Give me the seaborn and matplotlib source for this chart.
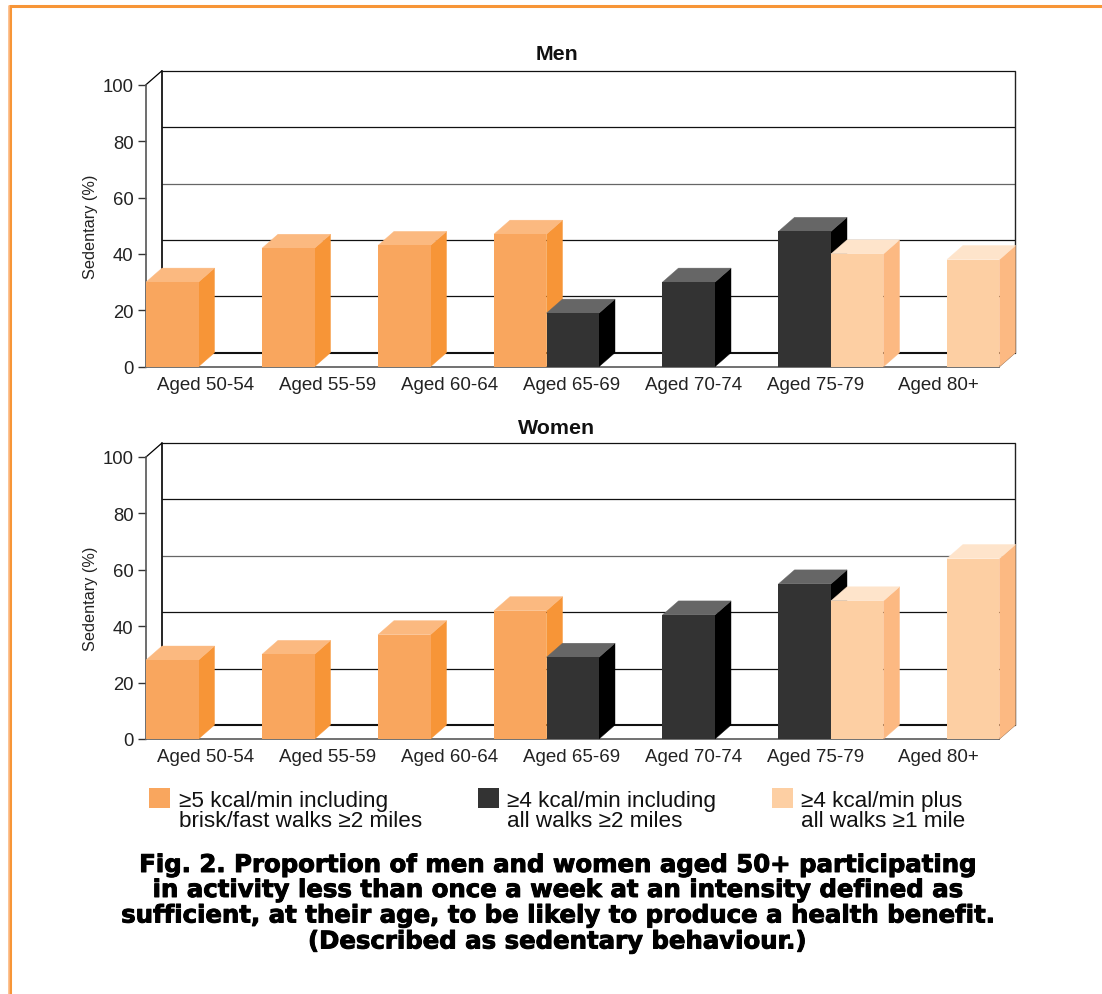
import numpy as np
import pandas as pd
import matplotlib
matplotlib.use('Agg')
import matplotlib.pyplot as plt
import matplotlib.patheffects as pe
from matplotlib.lines import Line2D
from matplotlib.patches import Polygon, Rectangle
import seaborn as sns

# Data
ages = ['Aged 50-54', 'Aged 55-59', 'Aged 60-64', 'Aged 65-69', 'Aged 70-74', 'Aged 75-79', 'Aged 80+']
nan = np.nan
men_5kcal = [30, 42, 43, 47, nan, nan, nan]
men_4kcal = [nan, nan, nan, 19, 30, 48, nan]
men_4kcal_1mile = [nan, nan, nan, nan, nan, 40, 38]
women_5kcal = [28, 30, 37, 45.5, nan, nan, nan]
women_4kcal = [nan, nan, nan, 29, 44, 55, nan]
women_4kcal_1mile = [nan, nan, nan, nan, nan, 49, 64]
y_ticks = [0, 20, 40, 60, 80, 100]

legend_lines = ['\u22655 kcal/min including\nbrisk/fast walks \u22652 miles',
                '\u22654 kcal/min including\nall walks \u22652 miles',
                '\u22654 kcal/min plus\nall walks \u22651 mile']
caption = ['Fig. 2. Proportion of men and women aged 50+ participating',
           'in activity less than once a week at an intensity defined as',
           'sufficient, at their age, to be likely to produce a health benefit.',
           '(Described as sedentary behaviour.)']

# front, side, top colours for each series
front = ['#F9A65E', '#333333', '#FDCFA3']
side = ['#F79537', '#000000', '#FCB982']
top = ['#FBB980', '#666666', '#FEE4CB']

W, H = 1102, 995
STEP = 116      # px between bars of one series
BAR_W = 52.5
LABEL_STEP = 122
DX = 16
DY = 14 / 2.82  # depth in y units

sns.set_theme(style='white')
plt.rcParams['font.family'] = ['Liberation Sans', 'DejaVu Sans']
fig = plt.figure(figsize=(W / 100, H / 100), dpi=100)


def make_df(*series):
    rows = []
    for s, vals in enumerate(series):
        for i, v in enumerate(vals):
            if not np.isnan(v):
                rows.append({'pos': STEP * i + BAR_W * s + BAR_W / 2, 'series': s, 'value': v})
    return pd.DataFrame(rows)


def panel(y0, title_y, title, series):
    ax = fig.add_axes([146 / W, 1 - y0 / H, 853 / W, 282 / H])
    df = make_df(*series)
    sns.barplot(data=df, x='pos', y='value', hue='series', palette=front, native_scale=True,
                dodge=False, width=1, saturation=1, errorbar=None, legend=False, linewidth=0, ax=ax)
    ax.set_xlim(0, 853)
    ax.set_ylim(0, 100)

    # back wall
    for t in y_ticks:
        ax.plot([DX, 853 + DX], [t + DY, t + DY], color='#111111' if t != 60 else '#666666',
                lw=1.5 if t == 0 else 0.9, clip_on=False, zorder=1, solid_capstyle='butt')
    ax.plot([DX, DX], [DY, 100 + DY], color='black', lw=1.2, clip_on=False, zorder=1)
    ax.plot([853 + DX, 853 + DX], [DY, 100 + DY], color='#222222', lw=1, clip_on=False, zorder=1)
    ax.plot([0, DX], [100, 100 + DY], color='black', lw=0.9, clip_on=False, zorder=1)
    ax.plot([853, 853 + DX], [0, DY], color='#333333', lw=0.9, clip_on=False, zorder=1)

    # side and top faces, painted left to right
    bars = sorted(ax.patches, key=lambda p: p.get_x())
    for k, p in enumerate(bars):
        x0, w, h = p.get_x(), p.get_width(), p.get_height()
        s = front.index(matplotlib.colors.to_hex(p.get_facecolor()).upper())
        z = 3 + k * 0.1
        ax.add_patch(Polygon([(x0 + w, 0), (x0 + w + DX, DY), (x0 + w + DX, h + DY), (x0 + w, h)],
                             fc=side[s], ec=side[s], lw=0.3, clip_on=False, zorder=z))
        ax.add_patch(Polygon([(x0, h), (x0 + DX, h + DY), (x0 + w + DX, h + DY), (x0 + w, h)],
                             fc=top[s], ec=top[s], lw=0.3, clip_on=False, zorder=z))
        p.set_zorder(z + 0.05)
        p.set_clip_on(False)

    sns.despine(ax=ax, top=True, right=True)
    ax.spines['left'].set_color('#555555')
    ax.spines['left'].set_linewidth(1.2)
    ax.spines['bottom'].set_color('#666666')
    ax.spines['bottom'].set_linewidth(1.3)
    ax.spines['left'].set_zorder(2)
    ax.spines['bottom'].set_zorder(2)
    ax.patch.set_alpha(0)

    ax.set_yticks(y_ticks)
    ax.set_xticks([LABEL_STEP * (i + 0.5) - 1 for i in range(len(ages))])
    ax.set_xticklabels(ages)
    ax.tick_params(axis='y', left=True, length=6, width=1, color='#333333', labelsize=13.3,
                   labelcolor='#222222', pad=3)
    ax.tick_params(axis='x', bottom=False, labelsize=13.5, labelcolor='#222222', pad=0.8)
    ax.set_xlabel('')
    ax.set_ylabel('Sedentary (%)', fontsize=11.7, color='#222222')
    ax.yaxis.set_label_coords((98 - 146) / 853, 0.5)
    fig.text(556.5 / W, 1 - title_y / H, title, fontsize=15.4, fontweight='bold', color='#111111',
             ha='center', va='center')
    return ax


panel(367.7, 54.3, 'Men', [men_5kcal, men_4kcal, men_4kcal_1mile])
panel(740, 428.3, 'Women', [women_5kcal, women_4kcal, women_4kcal_1mile])

# legend
for s, (sq_x, txt_x) in enumerate(zip([149, 478, 772], [179, 507, 801])):
    fig.add_artist(Rectangle((sq_x / W, 1 - 809 / H), 21 / W, 20 / H, transform=fig.transFigure,
                             fc=front[s], lw=0))
    fig.text(txt_x / W, 1 - 811.5 / H, legend_lines[s], fontsize=16.2, color='#111111', ha='left',
             va='center', linespacing=0.98)

# caption
for line, y in zip(caption, [866, 891, 916.5, 942.5]):
    fig.text(556.5 / W, 1 - y / H, line, fontsize=17.55, fontweight='bold', color='black', ha='center',
             va='center', family='DejaVu Sans', path_effects=[pe.withStroke(linewidth=0.7, foreground='black')])

# orange frame top and left
fig.add_artist(Line2D([9.5 / W, 1], [1 - 7.3 / H, 1 - 7.3 / H], color='#F79537', lw=2.2,
                      transform=fig.transFigure))
fig.add_artist(Line2D([10.3 / W, 10.3 / W], [0, 1 - 6.5 / H], color='#F79537', lw=2.2,
                      transform=fig.transFigure))
fig.add_artist(Line2D([8.6 / W, 8.6 / W], [0, 1 - 6.5 / H], color='#FCB982', lw=1.2,
                      transform=fig.transFigure))

fig.savefig('out.png', dpi=100)
